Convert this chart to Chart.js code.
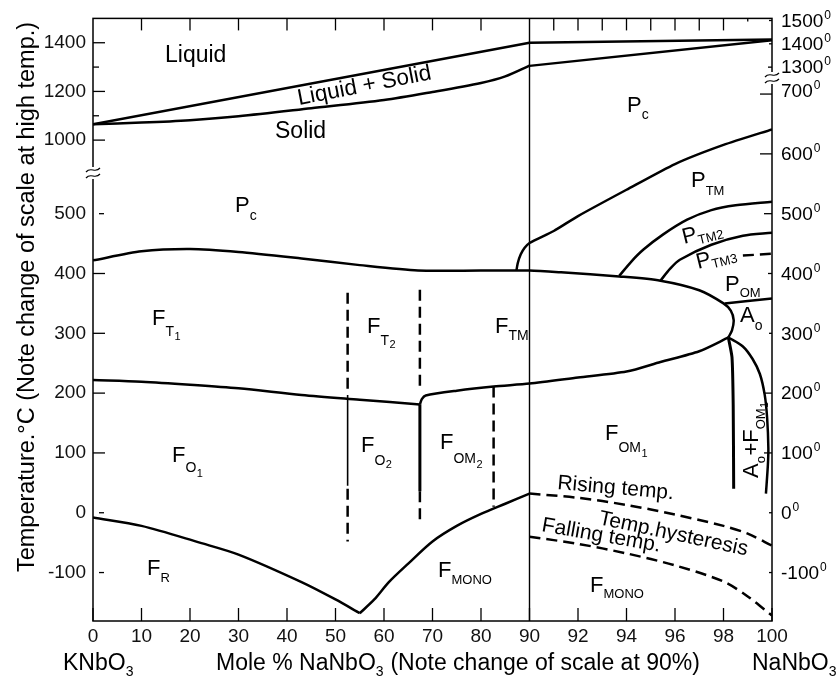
<!DOCTYPE html>
<html>
<head>
<meta charset="utf-8">
<script src="https://cdn.jsdelivr.net/npm/chart.js@4.4.1/dist/chart.umd.min.js"></script>
<style>
    html, body { margin: 0; padding: 0; background: #fff; }
    #wrap { width: 840px; height: 679px; }
</style>
</head>
<body>
<div id="wrap"><canvas id="phaseChart" width="840" height="679"></canvas></div>
<script>
// KNbO3 - NaNbO3 phase diagram
// every boundary is a list of [mole % NaNbO3, temperature C]

const xTicks = [0, 10, 20, 30, 40, 50, 60, 70, 80, 90, 92, 94, 96, 98, 100];
const topTicks = [10, 20, 30, 40, 50, 60, 70, 80, 91, 92, 93, 94, 95, 96, 97, 98, 99];
const leftTicks = [-100, 0, 100, 200, 300, 400, 500, 1000, 1200, 1400];
const leftMinor = [1100, 1300];
const rightTicks = [-100, 0, 100, 200, 300, 400, 500, 600, 700, 1300, 1400, 1500];

const liquidusK = [[0, 1065], [90, 1400]];
const liquidusNa = [[90, 1400], [100, 1418]];
const solidusK = [[0, 1065], [10, 1072], [20, 1082], [30, 1098], [45, 1131], [60, 1165], [70, 1198], [80, 1235], [85, 1262], [90, 1306]];
const solidusNa = [[90, 1305], [100, 1415]];
const curieLine = [[0, 422], [10, 437], [20, 441], [30, 436], [43, 425], [55, 414], [67, 405], [80, 405], [90, 405],
    [91.3, 402], [93.7, 395], [95.4, 388], [97, 372], [98, 350], [98.3, 338], [98.42, 322], [98.35, 305], [98.2, 293]];
const tetraOrthoK = [[0, 222], [10, 219], [20, 214], [30, 208], [43, 197], [55, 189], [67.4, 181]];
const tetraOrthoNa = [[67.4, 181], [67.8, 190], [68.6, 196], [75, 204], [82.6, 211], [90, 216],
    [92, 226], [94, 236], [95.4, 252], [97, 270], [98.2, 293]];
const pcPtm = [[87.3, 405], [87.6, 418], [88.2, 432], [89, 443], [90, 451], [91, 471], [92, 496], [94, 540], [96, 583], [98, 615], [100, 641]];
const ptmPtm2 = [[93.7, 396], [94.2, 420], [94.7, 440], [95.5, 465], [96.5, 490], [97.5, 506], [98.5, 514], [100, 520]];
const ptm2Ptm3 = [[95.4, 388], [95.8, 408], [96.2, 423], [97.5, 448], [98.8, 463], [100, 468]];
const ptm3Pom = [[98.8, 430], [100, 433]];
const pomAo = [[98.05, 350], [99, 354], [100, 358]];
const aoRight = [[98.2, 293], [98.8, 278], [99.2, 257], [99.5, 232], [99.7, 197], [99.8, 158], [99.85, 108], [99.83, 80], [99.75, 32]];
const aoLeft = [[98.2, 293], [98.35, 260], [98.4, 180], [98.42, 40]];
const scaleBreak90 = [[90, -181], [90, 1500]];
const rhomboK = [[0, -8], [10, -22], [22, -50], [30, -70], [43, -116], [50, -145], [55, -168]];
const monoK = [[55, -168], [58, -145], [61, -116], [65, -85], [70, -48], [75, -22], [80, -2], [85, 15], [90, 32]];
const risingTemp = [[90, 32], [92, 25], [94, 13], [96, -3], [98, -22], [99, -35], [100, -55]];
const fallingTemp = [[90, -40], [92, -52], [94, -68], [96, -88], [98, -115], [99, -140], [100, -172]];
const v52Top = [[52.5, 368], [52.5, 206]];
const v52Mid = [[52.5, 197], [52.5, 45]];
const v52Low = [[52.5, 40], [52.5, -48]];
const v67Top = [[67.4, 373], [67.4, 207]];
const v67Mid = [[67.4, 181], [67.4, 36]];
const v67Low = [[67.4, 36], [67.4, -12]];
const v82 = [[82.6, 211], [82.6, 10]];

// x: 0-90 % at normal scale, 90-100 % stretched five times
function ux(m) { return m <= 90 ? m : 90 + (m - 90) * 5; }
// left axis is broken between ~560 and ~850 C
function vLeft(t) { return t <= 700 ? t : 623 + (t - 1000) * 0.407; }
// right axis (used past 90 %) is broken between 700 and 1300 C
function vRight(t) { return t <= 760 ? t : 745 + (t - 1300) * 0.39; }
function toPoint(p) { return { x: ux(p[0]), y: p[0] <= 90 ? vLeft(p[1]) : vRight(p[1]) }; }

function boundary(pts, extra) {
    return Object.assign({
        data: pts.map(toPoint),
        showLine: true,
        pointRadius: 0,
        borderColor: '#000',
        borderWidth: 2.5,
        tension: 0.3,
        fill: false
    }, extra || {});
}

const dashed = { borderDash: [11, 6], tension: 0 };
const FONT = "'Liberation Sans', Arial, sans-serif";

const datasets = [
    boundary(liquidusK, { tension: 0 }),
    boundary(liquidusNa, { tension: 0 }),
    boundary(solidusK),
    boundary(solidusNa, { tension: 0 }),
    boundary(curieLine, { tension: 0.25 }),
    boundary(tetraOrthoK),
    boundary(tetraOrthoNa, { tension: 0.25 }),
    boundary(pcPtm, { tension: 0.2 }),
    boundary(ptmPtm2),
    boundary(ptm2Ptm3),
    boundary(ptm3Pom, dashed),
    boundary(pomAo, { tension: 0.2 }),
    boundary(aoRight),
    boundary(aoLeft, { tension: 0.2, borderWidth: 3 }),
    boundary(scaleBreak90, { tension: 0, borderWidth: 1.4 }),
    boundary(rhomboK),
    boundary(monoK),
    boundary(risingTemp, Object.assign({}, dashed, { tension: 0.3 })),
    boundary(fallingTemp, Object.assign({}, dashed, { tension: 0.3 })),
    boundary(v52Top, dashed),
    boundary(v52Mid, { tension: 0, borderWidth: 1.6 }),
    boundary(v52Low, dashed),
    boundary(v67Top, dashed),
    boundary(v67Mid, { tension: 0, borderWidth: 3 }),
    boundary(v67Low, dashed),
    boundary(v82, dashed)
];

// region names: [text, size, baseline shift]
const regionLabels = [
    { x: 165, y: 62, parts: [['Liquid', 23, 0]] },
    { x: 299, y: 105, rot: -11, parts: [['Liquid + Solid', 22.5, 0]] },
    { x: 275, y: 138, parts: [['Solid', 23, 0]] },
    { x: 235, y: 212, parts: [['P', 22, 0], ['c', 14, 8]] },
    { x: 627, y: 112, parts: [['P', 22, 0], ['c', 14, 7]] },
    { x: 691, y: 187, parts: [['P', 22, 0], ['TM', 13, 8]] },
    { x: 684, y: 244, rot: -14, parts: [['P', 22, 0], ['TM2', 13, 4]] },
    { x: 698, y: 269, rot: -14, parts: [['P', 22, 0], ['TM3', 13, 3]] },
    { x: 725, y: 291, parts: [['P', 22, 0], ['OM', 13, 6]] },
    { x: 740, y: 322, parts: [['A', 22, 0], ['o', 14, 8]] },
    { x: 152, y: 325, parts: [['F', 22, 0], ['T', 14, 11], ['1', 11, 15]] },
    { x: 367, y: 333, parts: [['F', 22, 0], ['T', 14, 12], ['2', 11, 15]] },
    { x: 495, y: 333, parts: [['F', 22, 0], ['TM', 14, 7]] },
    { x: 172, y: 462, parts: [['F', 22, 0], ['O', 14, 10], ['1', 11, 15]] },
    { x: 361, y: 452, parts: [['F', 22, 0], ['O', 14, 13], ['2', 11, 16]] },
    { x: 440, y: 449, parts: [['F', 22, 0], ['OM', 14, 14], ['2', 11, 19]] },
    { x: 605, y: 440, parts: [['F', 22, 0], ['OM', 14, 12], ['1', 11, 17]] },
    { x: 758, y: 478, rot: -90, parts: [['A', 22, 0], ['o', 13, 7], ['+', 22, 0], ['F', 22, 0], ['OM', 13, 7], ['1', 10, 10]] },
    { x: 147, y: 575, parts: [['F', 22, 0], ['R', 13, 7]] },
    { x: 438, y: 577, parts: [['F', 22, 0], ['MONO', 13, 7]] },
    { x: 590, y: 592, parts: [['F', 22, 0], ['MONO', 13, 6]] },
    { x: 557, y: 489, rot: 5, parts: [['Rising temp.', 21, 0]] },
    { x: 598, y: 524, rot: 12, parts: [['Temp.hysteresis', 21, 0]] },
    { x: 541, y: 531, rot: 10, parts: [['Falling temp.', 21, 0]] }
];

function drawParts(ctx, x, y, parts, rot) {
    ctx.save();
    ctx.translate(x, y);
    if (rot) ctx.rotate(rot * Math.PI / 180);
    let cx = 0;
    parts.forEach(p => {
        ctx.font = p[1] + 'px ' + FONT;
        ctx.fillText(p[0], cx, p[2]);
        cx += ctx.measureText(p[0]).width + (p[1] < 16 ? 0.5 : 0);
    });
    ctx.restore();
}

function breakMark(ctx, x, y) {
    ctx.save();
    ctx.fillStyle = '#fff';
    ctx.fillRect(x - 3, y - 6, 6, 12);
    ctx.strokeStyle = '#000';
    ctx.lineWidth = 1.2;
    [-3, 3].forEach(d => {
        ctx.beginPath();
        ctx.moveTo(x - 7, y + d + 2);
        ctx.bezierCurveTo(x - 2, y + d - 4, x + 2, y + d + 4, x + 7, y + d - 2);
        ctx.stroke();
    });
    ctx.restore();
}

const decorPlugin = {
    id: 'decor',
    afterDraw(chart) {
        const ctx = chart.ctx;
        const a = chart.chartArea;
        const xs = chart.scales.x;
        const ys = chart.scales.y;
        ctx.save();
        ctx.strokeStyle = '#000';
        ctx.fillStyle = '#000';
        ctx.lineWidth = 1.5;
        ctx.strokeRect(a.left, a.top, a.right - a.left, a.bottom - a.top);

        // inward tick marks
        ctx.lineWidth = 1.3;
        function seg(x1, y1, x2, y2) {
            ctx.beginPath(); ctx.moveTo(x1, y1); ctx.lineTo(x2, y2); ctx.stroke();
        }
        xTicks.forEach(m => {
            const px = xs.getPixelForValue(ux(m));
            seg(px, a.bottom, px, a.bottom - 13);
        });
        topTicks.forEach(m => {
            const px = xs.getPixelForValue(ux(m));
            seg(px, a.top, px, a.top + (m === 99 ? 3 : 12));
        });
        leftTicks.forEach(t => {
            const py = ys.getPixelForValue(vLeft(t));
            if (t <= 0 || t === 500) seg(a.left + 6, py, a.left + 11, py);
            else seg(a.left, py, a.left + 12, py);
        });
        leftMinor.forEach(t => {
            const py = ys.getPixelForValue(vLeft(t));
            seg(a.left, py, a.left + 6, py);
        });
        rightTicks.forEach(t => {
            const py = ys.getPixelForValue(vRight(t));
            let len = 8;
            if (t === 600 || t === 700) len = 12;
            if (t === 300 || t === 0 || t === -100 || t >= 1400) len = 3;
            if (t === 400 || t === 1300) ctx.setLineDash([4, 4]);
            seg(a.right, py, a.right - len, py);
            ctx.setLineDash([]);
        });

        // right axis labels with small raised 0
        ctx.textBaseline = 'middle';
        rightTicks.forEach(t => {
            const py = ys.getPixelForValue(vRight(t)) - (t === 700 ? 3 : 0);
            ctx.font = '19px ' + FONT;
            const s = String(t);
            ctx.fillText(s, a.right + 9, py + 1);
            const w = ctx.measureText(s).width;
            ctx.font = '12px ' + FONT;
            ctx.fillText('0', a.right + 10 + w, py - 5);
        });
        ctx.textBaseline = 'alphabetic';

        breakMark(ctx, a.left, 173);
        breakMark(ctx, a.right, 78);

        // axis titles
        ctx.save();
        ctx.translate(34, 297);
        ctx.rotate(-Math.PI / 2);
        ctx.font = '23.5px ' + FONT;
        ctx.textAlign = 'center';
        ctx.fillText('Temperature.\u00B0C (Note change of scale at high temp.)', 0, 0);
        ctx.restore();

        drawParts(ctx, 216, 670, [['Mole % NaNbO', 23, 0], ['3', 14, 6], [' (Note change of scale at 90%)', 23, 0]]);
        drawParts(ctx, 63, 670, [['KNbO', 23, 0], ['3', 14, 6]]);
        drawParts(ctx, 752, 670, [['NaNbO', 23, 0], ['3', 14, 6]]);

        regionLabels.forEach(l => drawParts(ctx, l.x, l.y, l.parts, l.rot));
        ctx.restore();
    }
};

new Chart(document.getElementById('phaseChart'), {
    type: 'scatter',
    data: { datasets: datasets },
    options: {
        responsive: false,
        animation: false,
        layout: { padding: { top: 14, right: 68, left: 0, bottom: 0 } },
        plugins: { legend: { display: false }, tooltip: { enabled: false } },
        scales: {
            x: {
                type: 'linear',
                min: 0,
                max: 140,
                afterBuildTicks: function(scale) {
                    scale.ticks = xTicks.map(m => ({ value: ux(m) }));
                },
                afterFit: function(scale) { scale.height = 58; },
                grid: { display: false, drawTicks: false },
                border: { display: false },
                ticks: {
                    autoSkip: false,
                    maxRotation: 0,
                    padding: 4,
                    color: '#111',
                    font: { family: FONT, size: 19 },
                    callback: function(value, index) { return xTicks[index]; }
                }
            },
            y: {
                type: 'linear',
                min: -181,
                max: 826.5,
                afterBuildTicks: function(scale) {
                    scale.ticks = leftTicks.map(t => ({ value: vLeft(t) }));
                },
                afterFit: function(scale) { scale.width = 93; },
                grid: { display: false, drawTicks: false },
                border: { display: false },
                ticks: {
                    autoSkip: false,
                    padding: 7,
                    color: '#111',
                    font: { family: FONT, size: 19 },
                    callback: function(value, index) { return leftTicks[index]; }
                }
            }
        }
    },
    plugins: [decorPlugin]
});
</script>
</body>
</html>
